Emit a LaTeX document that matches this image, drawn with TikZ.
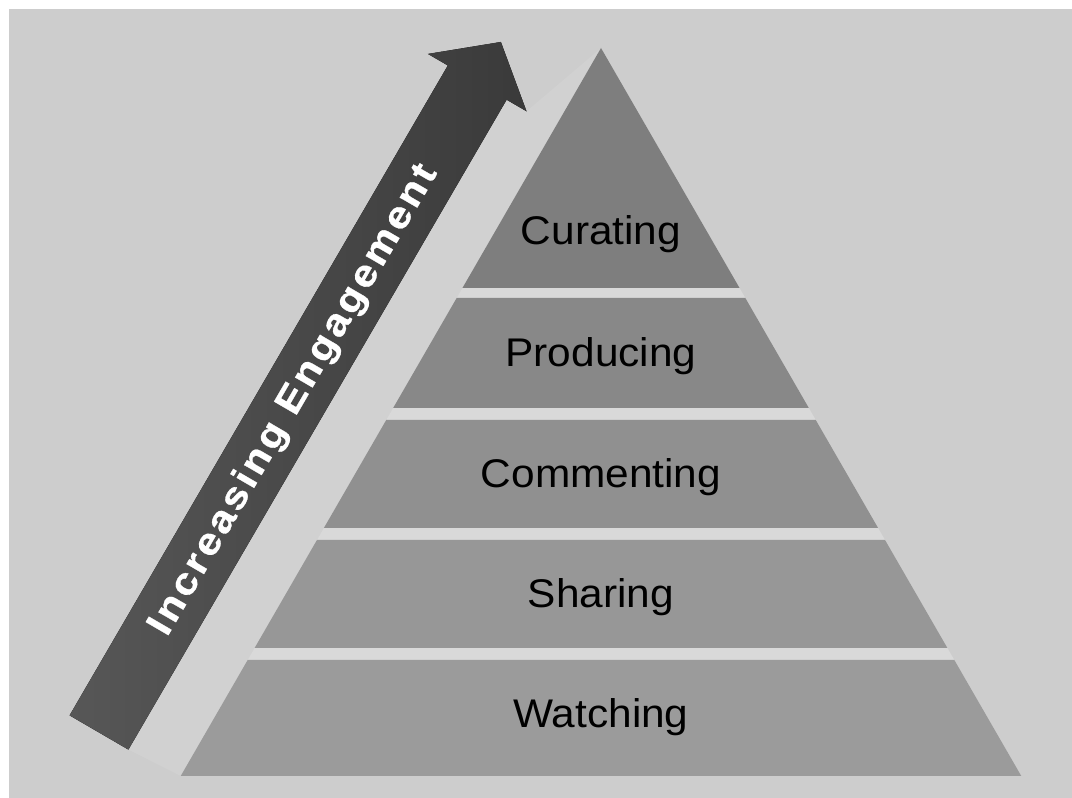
\documentclass[tikz,border=0pt]{standalone}
\usepackage{fontspec}
\setmainfont{Liberation Sans}
\newfontfamily\bandfont[FakeStretch=1.06]{Liberation Sans}
\newfontfamily\arrowfont[FakeStretch=1.12,LetterSpace=8,FakeBold=0.8]{Liberation Sans Bold}
\definecolor{paper}{HTML}{CDCDCD}
\definecolor{glow}{HTML}{D1D1D1}
\definecolor{gapgray}{HTML}{D9D9D9}
\definecolor{arrowdark}{HTML}{3A3A3A}
\definecolor{arrowlight}{HTML}{575757}
\tikzset{
  band text/.style={font=\bandfont\fontsize{40}{48}\selectfont,text=black,inner sep=0pt,anchor=base},
  engage text/.style={font=\arrowfont\fontsize{38}{42}\selectfont,text=white,inner sep=0pt,anchor=base west,rotate=59.8},
}
\begin{document}
\begin{tikzpicture}[x=1pt,y=1pt]
	\useasboundingbox (0,0) rectangle (1072,798);
	\fill[white] (0,0) rectangle (1072,798);
	\fill[paper] (9,0) rectangle (1072,789);
	% arrow frame
	\begin{scope}[shift={(99,65.5)},rotate=59.8]
		\coordinate (tailR) at (0,-34);
		\coordinate (notchR) at (752,-34);
		\coordinate (wingR) at (752,-57);
	\end{scope}
	\coordinate (apex) at (601,750);
	\coordinate (baseL) at (180.7,22);
	\coordinate (baseR) at (1021.3,22);
	% light strip between arrow and pyramid
	\fill[glow] (tailR) -- (notchR) -- (wingR) -- (apex) -- (baseL) -- cycle;
	% pyramid, gaps show through
	\fill[gapgray] (apex) -- (baseL) -- (baseR) -- cycle;
	\foreach \yt/\yb/\tone/\id/\txt/\ytxt in {750/510/7E7E7E/curating/Curating/553,
		500/390/888888/producing/Producing/431,
		378/270/909090/commenting/Commenting/310,
		258/150/979797/sharing/Sharing/190,
		138/22/9B9B9B/watching/Watching/70}
	{
		\pgfmathsetmacro\wt{(750-\yt)*0.57735}
		\pgfmathsetmacro\wb{(750-\yb)*0.57735}
		\definecolor{bandfill}{HTML}{\tone}
		\fill[bandfill] (601-\wt,\yt) -- (601+\wt,\yt) -- (601+\wb,\yb) -- (601-\wb,\yb) -- cycle;
		\node[band text] (\id) at (601,\ytxt) {\txt};
	}
	% arrow
	\begin{scope}[shift={(99,65.5)},rotate=59.8]
		\fill[left color=arrowlight,right color=arrowdark] (0,-34) -- (752,-34) -- (752,-57) -- (799,0) -- (752,57) -- (752,34) -- (0,34) -- cycle;
		\node[engage text] (engage) at (116,-11) {Increasing Engagement};
	\end{scope}
\end{tikzpicture}
\end{document}
